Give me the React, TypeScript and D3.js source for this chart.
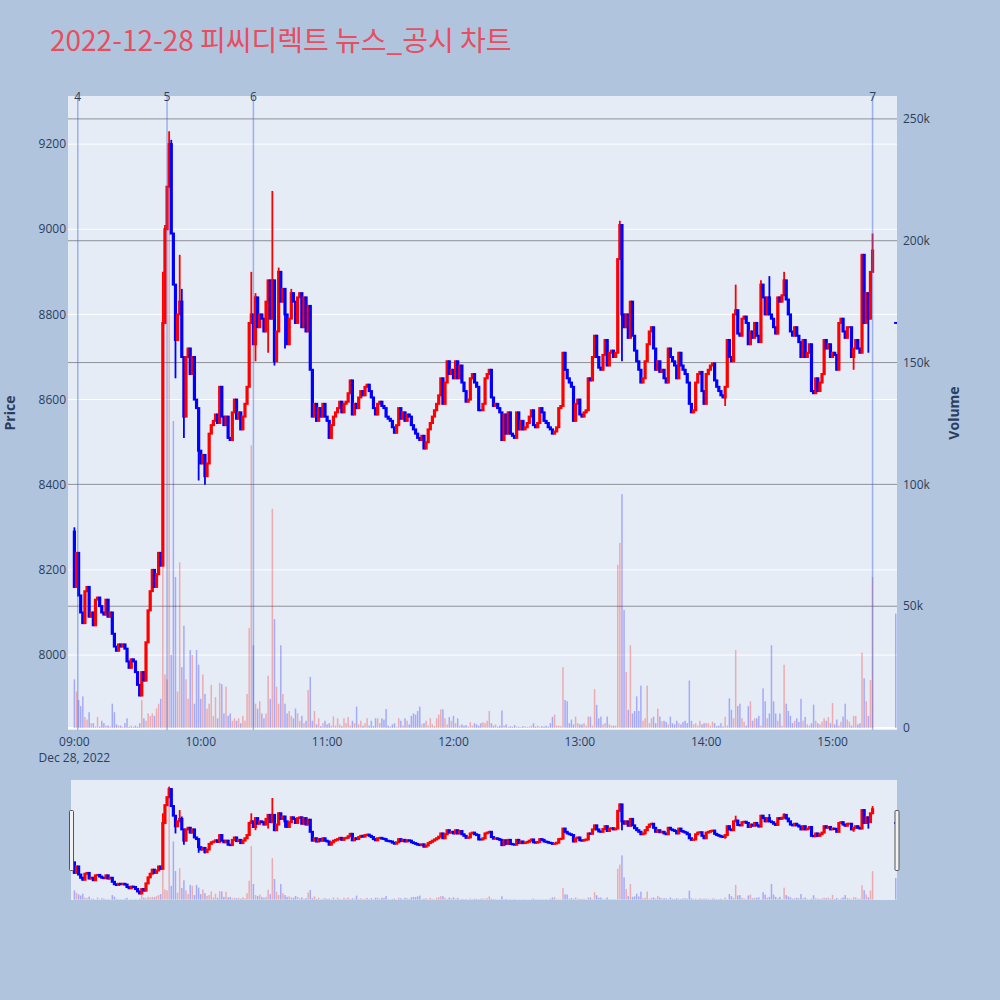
import React from "react";
import * as d3 from "d3";

// ---------- session data (1-minute bars, 2022-12-28) ----------
const firstOpen = 8290;

// minute closes from 09:00 to 15:19
const closes: number[] = [
  // 09:00 - 10:01
  8160, 8240, 8140, 8100, 8075, 8150, 8160, 8090, 8100, 8070,
  8130, 8135, 8115, 8100, 8095, 8130, 8090, 8100, 8050, 8020,
  8010, 8025, 8020, 8025, 8015, 7985, 7970, 7990, 7985, 7960,
  7930, 7905, 7960, 7940, 8030, 8105, 8150, 8200, 8160, 8190,
  8240, 8210, 8780, 9000, 9100, 9200, 8990, 8870, 8740, 8800,
  8830, 8700, 8560, 8700, 8720, 8660, 8700, 8600, 8580, 8480,
  8450, 8470,
  // 10:02 - 11:00
  8420, 8450, 8520, 8540, 8550, 8565, 8545, 8630, 8560, 8540,
  8560, 8510, 8505, 8570, 8600, 8555, 8570, 8530, 8560, 8590,
  8630, 8780, 8800, 8730, 8840, 8770, 8800, 8790, 8760, 8830,
  8880, 8790, 8880, 8690, 8760, 8900, 8830, 8860, 8800, 8730,
  8790, 8850, 8830, 8780, 8840, 8850, 8770, 8840, 8760, 8820,
  8670, 8560, 8590, 8550, 8580, 8560, 8590, 8560, 8550,
  // 11:01 - 12:02
  8510, 8540, 8560, 8570, 8580, 8595, 8570, 8590, 8595, 8615,
  8645, 8565, 8590, 8580, 8605, 8620, 8610, 8630, 8635, 8620,
  8605, 8580, 8565, 8590, 8595, 8585, 8580, 8560, 8555, 8550,
  8535, 8522, 8540, 8580, 8555, 8570, 8550, 8565, 8560, 8540,
  8530, 8520, 8510, 8505, 8515, 8485, 8500, 8530, 8545, 8560,
  8575, 8590, 8610, 8650, 8590, 8640, 8690, 8660, 8670, 8650,
  8690, 8650,
  // 12:03 - 13:01
  8680, 8640, 8620, 8595, 8600, 8650, 8660, 8640, 8630, 8575,
  8575, 8590, 8650, 8660, 8670, 8605, 8585, 8590, 8580, 8570,
  8505, 8565, 8520, 8570, 8520, 8515, 8510, 8570, 8530, 8550,
  8530, 8535, 8545, 8560, 8575, 8540, 8535, 8545, 8580, 8570,
  8550, 8545, 8535, 8530, 8520, 8525, 8535, 8580, 8585, 8710,
  8670, 8650, 8640, 8630, 8550, 8590, 8600, 8565, 8560,
  // 13:02 - 13:59
  8570, 8575, 8650, 8645, 8700, 8750, 8700, 8675, 8670, 8705,
  8740, 8680, 8710, 8715, 8700, 8710, 8930, 9010, 8800, 8770,
  8800, 8745, 8830, 8750, 8715, 8690, 8670, 8640, 8650, 8690,
  8730, 8760, 8770, 8720, 8670, 8690, 8665, 8670, 8650, 8640,
  8720, 8700, 8690, 8680, 8650, 8710, 8680, 8670, 8660, 8640,
  8590, 8570, 8575, 8640, 8660, 8665, 8620, 8590,
  // 14:00 - 14:58
  8660, 8670, 8680, 8685, 8645, 8630, 8620, 8610, 8605, 8630,
  8740, 8700, 8690, 8800, 8810, 8755, 8750, 8790, 8795, 8780,
  8730, 8760, 8745, 8780, 8750, 8735, 8870, 8840, 8800, 8840,
  8800, 8790, 8770, 8755, 8840, 8830, 8845, 8880, 8835, 8800,
  8760, 8750, 8770, 8750, 8735, 8700, 8740, 8700, 8710, 8730,
  8620, 8615, 8650, 8620, 8640, 8660, 8740, 8720, 8730,
  // 14:59 - 15:19
  8700, 8710, 8705, 8670, 8780, 8790, 8760, 8745, 8770, 8770,
  8700, 8720, 8740, 8720, 8710, 8940, 8780, 8850, 8790, 8900,
  8950,
];

// intraminute extremes beyond the candle body: [minute index, price]
const wickHighs: Array<[number, number]> = [
  [0, 8300], [42, 8900], [43, 9010], [45, 9230], [46, 9210], [50, 8940],
  [51, 8860], [84, 8900], [86, 8850], [94, 9090], [97, 8910], [103, 8860],
  [259, 9020], [314, 8870], [326, 8880], [330, 8890], [337, 8900], [379, 8990],
];
const wickLows: Array<[number, number]> = [
  [48, 8650], [52, 8510], [59, 8410], [62, 8400], [86, 8690], [92, 8710],
  [95, 8680], [100, 8720], [260, 8690], [309, 8585], [370, 8670], [377, 8710],
];

// minute volumes in thousands of shares, 09:00 - 15:19
const volumesK: number[] = [
  20, 15, 11.5, 9, 13, 4.5, 3.5, 6.5, 2, 2,
  0.6, 4.6, 0.6, 3, 2, 1, 1, 0.6, 10, 6.5,
  1.5, 1, 1, 0.5, 2, 4, 0.5, 1, 0.5, 1,
  0.5, 2, 11.5, 4, 3, 6, 5, 6, 5, 8,
  10, 12, 70, 22, 20, 245, 30, 126, 62, 15,
  68, 25, 42, 20, 12, 32, 30, 10, 32, 26,
  12, 22, 14, 8, 10, 17.7, 5, 12.7, 4, 18.5,
  18, 6, 17, 5, 6, 3, 4, 3, 4, 2,
  5, 3, 14, 41, 116, 34, 10, 8, 11, 6,
  4, 6, 21.5, 12, 90, 44.7, 17, 10, 34, 14,
  10, 6, 7, 5, 4, 8, 6, 3, 5, 2,
  3, 15.6, 21, 3, 7, 1.5, 4, 0.8, 2, 3,
  1.5, 2, 1, 4.8, 1, 4, 1.5, 0.8, 4, 2,
  4.5, 1, 3, 2, 8.8, 1.5, 3, 1, 2, 4,
  1, 3, 0.8, 4, 4, 2, 4, 3.5, 7.8, 1,
  0.6, 1.5, 2, 0.5, 4, 3, 1, 4, 3, 1.5,
  5, 6, 5.5, 7, 8.8, 1.5, 2, 3, 1, 4,
  1.5, 0.8, 4, 5.5, 7.7, 7.7, 4, 1.5, 4.5, 3,
  5, 2, 4, 1, 1.5, 1, 1.2, 0.6, 2.4, 1,
  2, 1.5, 1, 2, 2.4, 2, 3, 7, 2, 1,
  1.5, 0.5, 1, 7.2, 1, 1.5, 0.5, 0.8, 0.5, 1.2,
  0.6, 0.5, 0.4, 0.8, 0.6, 0.5, 0.6, 1, 2, 0.6,
  1, 0.5, 0.8, 0.6, 1, 0.5, 2, 4.6, 5.5, 1,
  1, 0.8, 25, 11.5, 11, 2, 3.5, 1.5, 4.7, 2,
  1.5, 1.5, 2, 1, 4.7, 4.7, 1, 16, 9.5, 4,
  4.7, 1.5, 2, 4.7, 1.5, 1, 1, 1, 67, 76,
  96, 48.5, 23, 7.5, 34, 6, 7, 13, 7, 17.4,
  3, 4, 17.4, 2, 4, 4.7, 2, 8, 4.7, 2.8,
  3, 2.5, 1.5, 4.7, 2, 1.5, 3, 2, 1.5, 2.5,
  3, 2, 19.5, 3, 1.5, 2, 1, 3, 1.5, 2,
  2, 2, 1, 2.6, 2, 0.8, 1, 2, 0.6, 4.6,
  1, 12.2, 7.5, 4, 32, 9, 10, 4, 2.6, 1,
  9, 11, 3, 4, 4, 5, 1, 16.3, 11, 4,
  6, 34, 11, 6, 3, 6, 1, 26, 10, 7,
  5, 2, 3, 4, 2.5, 12, 3, 4.5, 1.5, 1,
  2, 9.6, 3, 2, 1.5, 2.6, 4, 3, 4.5, 2,
  10.3, 1.5, 3.5, 1, 2.6, 4.7, 10, 3.5, 2.6, 1,
  5, 5, 1.5, 2, 31, 20.4, 11, 5, 19.7, 62,
];

// 15:30 closing single-price auction
const auctionBar = { hour: 15, minute: 30, open: 8780, close: 8780, volumeK: 47 };

// numbered news / disclosure timestamps
const newsLabels = ["4", "5", "6", "7"];
const newsTimes: Array<[number, number, number]> = [[9, 1, 36], [9, 44, 0], [10, 25, 0], [15, 19, 0]];

const priceTicks = [8000, 8200, 8400, 8600, 8800, 9000, 9200];
const volumeTicks = [0, 50000, 100000, 150000, 200000, 250000];
const hourTicks = [9, 10, 11, 12, 13, 14, 15];

const titleText = "2022-12-28 피씨디렉트 뉴스_공시 차트";

// ---------- derived bars ----------
type Bar = { t: Date; o: number; h: number; l: number; c: number; v: number; up: boolean };

const at = (h: number, m: number, s = 0) => new Date(2022, 11, 28, h, m, s);

const highMap = new Map(wickHighs);
const lowMap = new Map(wickLows);

const bars: Bar[] = closes.map((c, i) => {
  const o = i === 0 ? firstOpen : closes[i - 1];
  const prev = i < 2 ? firstOpen : closes[i - 2];
  const h = Math.max(o, c, highMap.get(i) ?? -Infinity);
  const l = Math.min(o, c, lowMap.get(i) ?? Infinity);
  return { t: at(9, i), o, h, l, c, v: volumesK[i] * 1000, up: c > o || (c === o && c > prev) };
});
bars.push({
  t: at(auctionBar.hour, auctionBar.minute),
  o: auctionBar.open,
  h: auctionBar.open,
  l: auctionBar.close,
  c: auctionBar.close,
  v: auctionBar.volumeK * 1000,
  up: false,
});

// ---------- layout ----------
const W = 1000;
const H = 1000;
const plot = { left: 68, right: 897, top: 96, bottom: 730 };
const slider = { top: 780, bottom: 900 };

const UP = "#ff0000";
const DOWN = "#0000ff";
const FONT = "'Open Sans', verdana, arial, 'Noto Sans CJK KR', sans-serif";
const INK = "#2a3f5f";

const x = d3
  .scaleTime()
  .domain([at(8, 56, 58), at(15, 30, 36)])
  .range([plot.left, plot.right]);

const priceDomain: [number, number] = [7824, 9313];
const volumeDomain: [number, number] = [-800, 259400];

const yPrice = d3.scaleLinear().domain(priceDomain).range([plot.bottom, plot.top]);
const yVol = d3.scaleLinear().domain(volumeDomain).range([plot.bottom, plot.top]);
const ySlidePrice = d3.scaleLinear().domain(priceDomain).range([slider.bottom, slider.top]);
const ySlideVol = d3.scaleLinear().domain(volumeDomain).range([slider.bottom, slider.top]);

const fmtHour = d3.timeFormat("%H:%M");
const fmtVol = d3.format("~s");

function Traces({ yP, yV }: { yP: d3.ScaleLinear<number, number>; yV: d3.ScaleLinear<number, number> }) {
  const bodyW = 3.2;
  const volW = 1.5;
  return (
    <g>
      <g>
        {bars.map((b, i) => {
          const cx = x(b.t);
          const top = yV(b.v);
          return (
            <rect
              key={"v" + i}
              x={cx - volW / 2}
              y={top}
              width={volW}
              height={Math.max(0, yV(0) - top)}
              fill={b.up ? UP : DOWN}
              fillOpacity={0.28}
            />
          );
        })}
      </g>
      <g>
        {bars.map((b, i) => {
          const cx = x(b.t);
          const col = b.up ? UP : DOWN;
          const yTop = yP(Math.max(b.o, b.c));
          const yBot = yP(Math.min(b.o, b.c));
          return (
            <g key={"c" + i}>
              <line x1={cx} x2={cx} y1={yP(b.h)} y2={yP(b.l)} stroke={col} strokeWidth={1.8} />
              <rect x={cx - bodyW / 2} y={yTop - 1} width={bodyW} height={yBot - yTop + 2} fill={col} />
            </g>
          );
        })}
      </g>
    </g>
  );
}

export default function App() {
  const pw = plot.right - plot.left;
  return (
    <svg
      width={W}
      height={H}
      viewBox={`0 0 ${W} ${H}`}
      style={{ position: "absolute", left: 0, top: 0, display: "block" }}
      fontFamily={FONT}
    >
      <defs>
        <clipPath id="mainClip">
          <rect x={plot.left} y={plot.top} width={pw} height={plot.bottom - plot.top} />
        </clipPath>
        <clipPath id="slideClip">
          <rect x={plot.left} y={slider.top} width={pw} height={slider.bottom - slider.top} />
        </clipPath>
      </defs>

      <rect x={0} y={0} width={W} height={H} fill="#b0c4de" />

      <text x={50} y={51} fontSize={28} fill="#e84d60" fontFamily="'Noto Sans CJK KR', 'Open Sans', sans-serif">
        {titleText}
      </text>

      {/* main plot */}
      <rect x={plot.left} y={plot.top} width={pw} height={plot.bottom - plot.top} fill="#e5ecf6" />
      <g>
        {priceTicks.map((p) => (
          <line key={"pg" + p} x1={plot.left} x2={plot.right} y1={yPrice(p)} y2={yPrice(p)} stroke="#ffffff" strokeWidth={1} />
        ))}
        <line x1={plot.left} x2={plot.right} y1={yVol(0)} y2={yVol(0)} stroke="#ffffff" strokeWidth={2} />
        {volumeTicks
          .filter((v) => v > 0)
          .map((v) => (
            <line key={"vg" + v} x1={plot.left} x2={plot.right} y1={yVol(v)} y2={yVol(v)} stroke="#8f8f96" strokeWidth={1} />
          ))}
      </g>
      <g clipPath="url(#mainClip)">
        <Traces yP={yPrice} yV={yVol} />
        {newsTimes.map((t, i) => {
          const nx = x(at(t[0], t[1], t[2]));
          return (
            <line
              key={"n" + i}
              x1={nx}
              x2={nx}
              y1={plot.top}
              y2={plot.bottom}
              stroke="rgb(65,105,225)"
              strokeOpacity={0.45}
              strokeWidth={1.5}
            />
          );
        })}
      </g>
      {newsTimes.map((t, i) => (
        <text key={"nl" + i} x={x(at(t[0], t[1], t[2]))} y={101} fontSize={12} fill={INK} textAnchor="middle">
          {newsLabels[i]}
        </text>
      ))}

      {/* price axis */}
      {priceTicks.map((p) => (
        <text key={"pt" + p} x={66} y={yPrice(p)} dy="0.35em" fontSize={12} fill={INK} textAnchor="end">
          {p}
        </text>
      ))}
      <text
        transform={`translate(15, ${(plot.top + plot.bottom) / 2}) rotate(-90)`}
        fontSize={14}
        fontWeight="bold"
        fill={INK}
        textAnchor="middle"
      >
        Price
      </text>

      {/* volume axis */}
      {volumeTicks.map((v) => (
        <text key={"vt" + v} x={903} y={yVol(v)} dy="0.35em" fontSize={12} fill={INK} textAnchor="start">
          {fmtVol(v)}
        </text>
      ))}
      <text
        transform={`translate(959, ${(plot.top + plot.bottom) / 2}) rotate(-90)`}
        fontSize={14}
        fontWeight="bold"
        fill={INK}
        textAnchor="middle"
      >
        Volume
      </text>

      {/* time axis */}
      {hourTicks.map((h) => (
        <text key={"ht" + h} x={x(at(h, 0))} y={746} fontSize={12} fill={INK} textAnchor="middle">
          {fmtHour(at(h, 0))}
        </text>
      ))}
      <text x={x(at(9, 0))} y={762} fontSize={12} fill={INK} textAnchor="middle">
        Dec 28, 2022
      </text>

      {/* range slider */}
      <rect x={plot.left + 3} y={slider.top} width={pw - 3} height={slider.bottom - slider.top} fill="#e5ecf6" />
      <g clipPath="url(#slideClip)">
        <Traces yP={ySlidePrice} yV={ySlideVol} />
      </g>
      {[plot.left + 1.5, plot.right - 2].map((hx, i) => (
        <rect
          key={"g" + i}
          x={hx}
          y={slider.top + 30.5}
          width={4}
          height={60}
          rx={1}
          fill="#f2f2f2"
          stroke="#555"
          strokeWidth={1}
        />
      ))}
    </svg>
  );
}
